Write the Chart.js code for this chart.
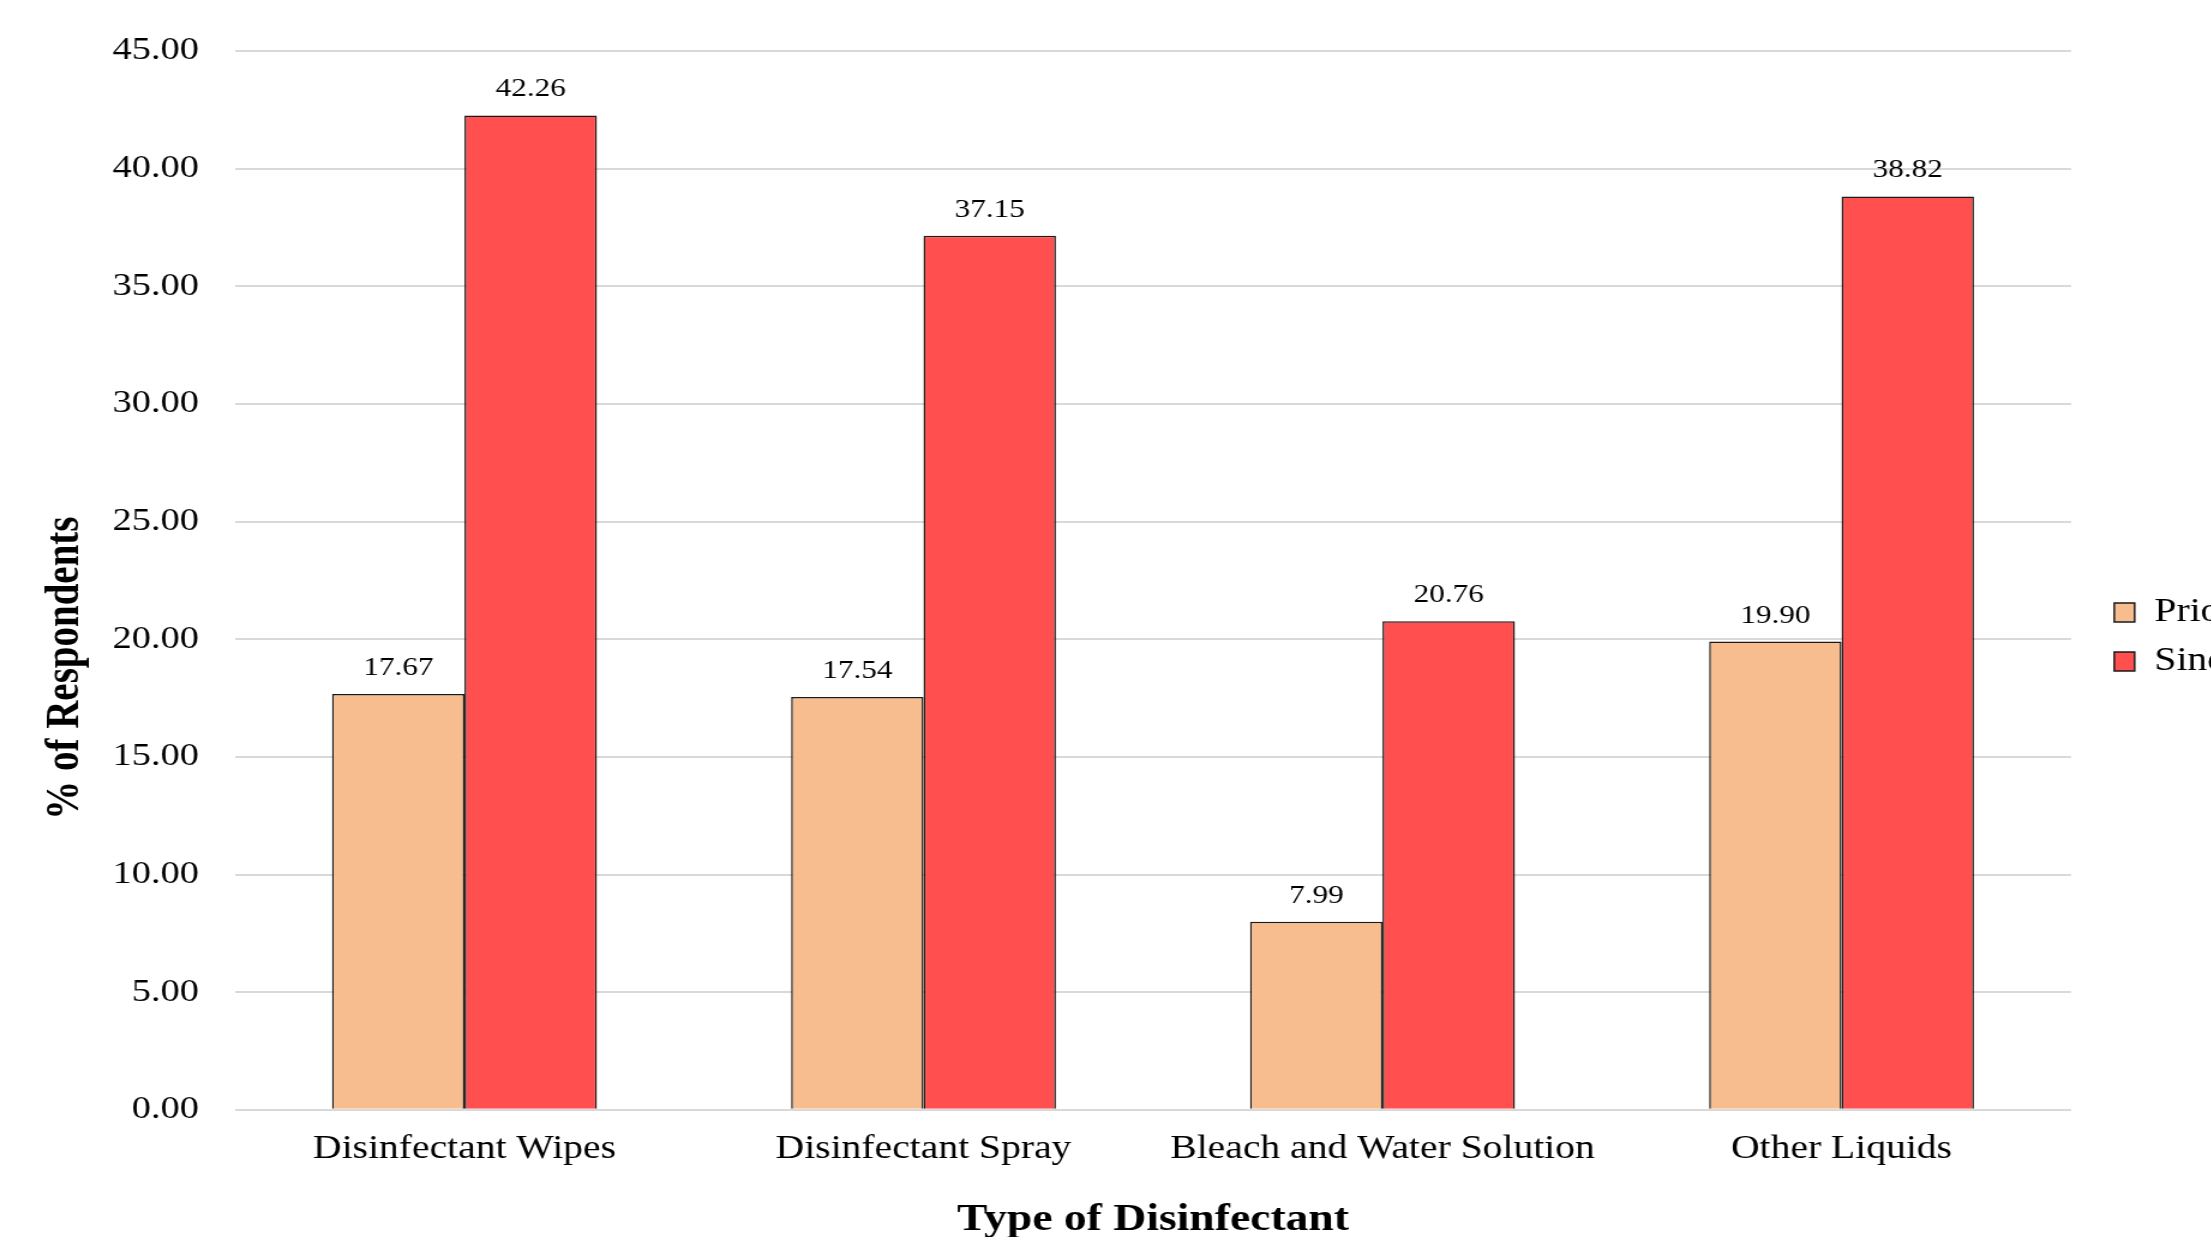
<!DOCTYPE html>
<html lang="en">
<head>
  <meta charset="UTF-8" />
  <title>Type of Disinfectant</title>
  <script src="https://cdn.jsdelivr.net/npm/chart.js@4.4.1/dist/chart.umd.min.js"></script>
  <style>
    html, body { margin: 0; padding: 0; background: #fff; overflow: hidden; width: 2211px; height: 1237px; }
    /* the source picture is stretched sideways, so the whole chart is too */
    #wrap { width: 2062px; height: 1237px; position: absolute; left: 0; top: 0;
            transform: scaleX(1.2); transform-origin: 0 0; }
  </style>
</head>
<body>
  <div id="wrap"><canvas id="myChart"></canvas></div>

  <script>
    const categories = ["Disinfectant Wipes", "Disinfectant Spray", "Bleach and Water Solution", "Other Liquids"];
    const priorValues = [17.67, 17.54, 7.99, 19.90];
    const sinceValues = [42.26, 37.15, 20.76, 38.82];
    const seriesNames = ["Prior to COVID-19", "Since COVID-19"];
    const yTicks = [0, 5, 10, 15, 20, 25, 30, 35, 40, 45];

    const serif = '"Liberation Serif", "Times New Roman", serif';

    // value labels above each bar
    const barLabels = {
      id: 'barLabels',
      afterDatasetsDraw(chart) {
        const ctx = chart.ctx;
        ctx.save();
        ctx.font = '26px ' + serif;
        ctx.fillStyle = '#000';
        ctx.textAlign = 'center';
        ctx.textBaseline = 'alphabetic';
        chart.data.datasets.forEach((ds, i) => {
          chart.getDatasetMeta(i).data.forEach((bar, j) => {
            ctx.fillText(ds.data[j].toFixed(2), bar.x, bar.y - 19);
          });
        });
        ctx.restore();
      }
    };

    // legend sits a little above the middle in the source
    const legendNudge = {
      id: 'legendNudge',
      afterLayout(chart) {
        if (chart.legend) { chart.legend.top -= 10; chart.legend.bottom -= 10; }
      }
    };

    new Chart(document.getElementById('myChart'), {
      type: 'bar',
      data: {
        labels: categories,
        datasets: [
          {
            label: seriesNames[0],
            data: priorValues,
            backgroundColor: '#F8BD8E',
            borderColor: '#1a1a1a',
            borderWidth: 1.5
          },
          {
            label: seriesNames[1],
            data: sinceValues,
            backgroundColor: '#FF4F4F',
            borderColor: '#1a1a1a',
            borderWidth: 1.5
          }
        ]
      },
      options: {
        responsive: true,
        maintainAspectRatio: false,
        devicePixelRatio: 1,
        animation: false,
        layout: { padding: { top: 51, left: 28, bottom: -6, right: 0 } },
        datasets: { bar: { categoryPercentage: 0.577, barPercentage: 1.0 } },
        plugins: {
          tooltip: { enabled: false },
          legend: {
            position: 'right',
            align: 'center',
            labels: {
              font: { family: serif, size: 33 },
              color: '#000',
              boxWidth: 17,
              boxHeight: 19,
              padding: 16
            }
          }
        },
        scales: {
          x: {
            grid: { display: false },
            border: { display: false },
            ticks: { font: { family: serif, size: 33 }, color: '#000', padding: 12 },
            title: {
              display: true,
              text: 'Type of Disinfectant',
              font: { family: serif, size: 38, weight: 'bold' },
              color: '#000',
              padding: { top: 16, bottom: 0 }
            }
          },
          y: {
            min: 0,
            max: 45,
            afterBuildTicks: s => { s.ticks = yTicks.map(v => ({ value: v })); },
            ticks: {
              font: { family: serif, size: 32 },
              color: '#000',
              padding: 15,
              callback: v => Number(v).toFixed(2)
            },
            grid: { color: '#d9d9d9', lineWidth: 2, drawTicks: true, tickLength: 15, tickColor: 'rgba(0,0,0,0)' },
            border: { display: false },
            title: {
              display: true,
              // trailing en spaces push the title below the axis middle, as in the source
              text: '% of Respondents' + '\u2002'.repeat(9),
              font: { family: serif, size: 39, weight: 'bold' },
              color: '#000',
              padding: { top: 4, bottom: 0 }
            }
          },
          // empty spacer between plot and legend
          gap: {
            position: 'right',
            display: true,
            grid: { display: false },
            border: { display: false },
            ticks: { display: false },
            afterFit: s => { s.width = 20; }
          }
        }
      },
      plugins: [barLabels, legendNudge]
    });
  </script>
</body>
</html>
